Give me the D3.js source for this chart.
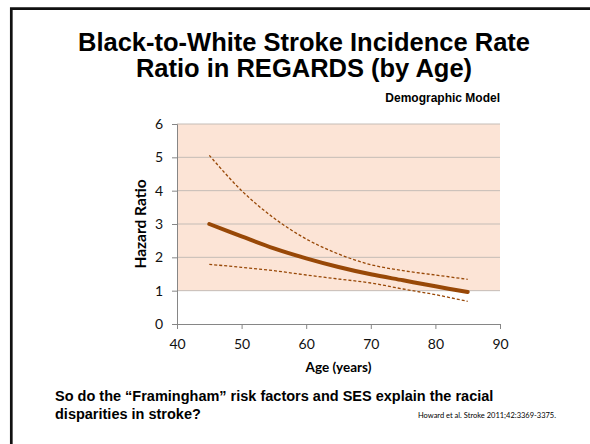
<!DOCTYPE html>
<html><head><meta charset="utf-8">
<script src="https://cdn.jsdelivr.net/npm/d3@7"></script>
<style>
html,body{margin:0;padding:0;background:#fff;}
svg{display:block;}
</style></head>
<body>
<svg id="chart" width="590" height="444"></svg>
<script>
// ---- data ----
const ages = [45, 50, 55, 60, 65, 70, 75, 80, 85];
const hazardRatio = [3.0, 2.63, 2.27, 1.97, 1.71, 1.49, 1.31, 1.13, 0.96];
const upperCI = [5.06, 4.0, 3.18, 2.55, 2.1, 1.78, 1.6, 1.47, 1.34];
const lowerCI = [1.79, 1.7, 1.6, 1.47, 1.35, 1.23, 1.05, 0.88, 0.68];
const xTicks = [40, 50, 60, 70, 80, 90];
const yTicks = [0, 1, 2, 3, 4, 5, 6];
const titleLines = ["Black-to-White Stroke Incidence Rate", "Ratio in REGARDS (by Age)"];
const subtitle = "Demographic Model";
const yLabel = "Hazard Ratio";
const xLabel = "Age (years)";
const footLines = ["So do the \u201cFramingham\u201d risk factors and SES explain the racial", "disparities in stroke?"];
const citation = "Howard et al.  Stroke 2011;42:3369-3375.";

const svg = d3.select("#chart");
const x = d3.scaleLinear().domain([40, 90]).range([177, 500]);
const y = d3.scaleLinear().domain([0, 6]).range([324, 124]);

// frame
svg.append("path").attr("d", "M11.3,444 L11.3,8.7 L590,8.7")
  .attr("fill", "none").attr("stroke", "#111").attr("stroke-width", 2.7);

// title
svg.append("text").attr("x", 304).attr("y", 51)
  .attr("text-anchor", "middle").attr("font-family", "Liberation Sans, Arial, sans-serif")
  .attr("font-weight", "bold").attr("font-size", 25.5).attr("fill", "#000")
  .selectAll("tspan").data(titleLines).join("tspan")
  .attr("x", 304).attr("dy", (d, i) => i === 0 ? 0 : 26).text(d => d);

// shaded band (HR > 1)
svg.append("rect").attr("x", x(40)).attr("y", y(6))
  .attr("width", x(90) - x(40)).attr("height", y(1) - y(6))
  .attr("fill", "#fce4d6");

// gridlines
svg.append("g").selectAll("line").data(yTicks.filter(d => d > 0)).join("line")
  .attr("x1", x(40)).attr("x2", x(90)).attr("y1", d => y(d)).attr("y2", d => y(d))
  .attr("stroke", "#c4bcb6").attr("stroke-width", 1);

const tickFont = "Lato, Carlito, Calibri, sans-serif";
// y axis
const yAxis = svg.append("g").attr("transform", `translate(${x(40)},0)`)
  .call(d3.axisLeft(y).tickValues(yTicks).tickSize(5).tickPadding(9).tickFormat(d3.format("d")));
yAxis.select(".domain").attr("stroke", "#868686");
yAxis.selectAll(".tick line").attr("stroke", "#868686");
yAxis.selectAll("text").attr("font-family", tickFont).attr("font-size", 14).attr("fill", "#111");

// x axis
const xAxis = svg.append("g").attr("transform", `translate(0,${y(0)})`)
  .call(d3.axisBottom(x).tickValues(xTicks).tickSize(5).tickPadding(10).tickFormat(d3.format("d")));
xAxis.select(".domain").attr("stroke", "#868686");
xAxis.selectAll(".tick line").attr("stroke", "#868686");
xAxis.selectAll("text").attr("font-family", tickFont).attr("font-size", 14).attr("fill", "#111");

// lines
const line = d3.line().x(d => x(d[0])).y(d => y(d[1])).curve(d3.curveCatmullRom);
const col = "#984807";
svg.append("path").datum(ages.map((a, i) => [a, upperCI[i]])).attr("d", line)
  .attr("fill", "none").attr("stroke", col).attr("stroke-width", 1.3).attr("stroke-dasharray", "3,2");
svg.append("path").datum(ages.map((a, i) => [a, lowerCI[i]])).attr("d", line)
  .attr("fill", "none").attr("stroke", col).attr("stroke-width", 1.3).attr("stroke-dasharray", "3,2");
svg.append("path").datum(ages.map((a, i) => [a, hazardRatio[i]])).attr("d", line)
  .attr("fill", "none").attr("stroke", col).attr("stroke-width", 4).attr("stroke-linecap", "round");

// subtitle
svg.append("text").attr("x", 500).attr("y", 102).attr("text-anchor", "end")
  .attr("font-family", "Liberation Sans, Arial, sans-serif").attr("font-weight", "bold")
  .attr("font-size", 12).attr("fill", "#000").text(subtitle);

// axis titles
svg.append("text").attr("transform", `translate(146,${y(3)}) rotate(-90)`)
  .attr("text-anchor", "middle").attr("font-family", tickFont).attr("font-weight", "bold")
  .attr("font-size", 15.5).attr("fill", "#000").text(yLabel);
svg.append("text").attr("x", (x(40) + x(90)) / 2).attr("y", 372)
  .attr("text-anchor", "middle").attr("font-family", tickFont).attr("font-weight", "bold")
  .attr("font-size", 13.5).attr("fill", "#000").text(xLabel);

// footer
svg.append("text").attr("x", 55).attr("y", 401)
  .attr("font-family", "Liberation Sans, Arial, sans-serif").attr("font-weight", "bold")
  .attr("font-size", 14.5).attr("fill", "#000")
  .selectAll("tspan").data(footLines).join("tspan")
  .attr("x", 55).attr("dy", (d, i) => i === 0 ? 0 : 18).text(d => d);
svg.append("text").attr("x", 556).attr("y", 418).attr("text-anchor", "end")
  .attr("font-family", tickFont).attr("font-size", 7.5).attr("fill", "#000").text(citation);
</script>
</body></html>
